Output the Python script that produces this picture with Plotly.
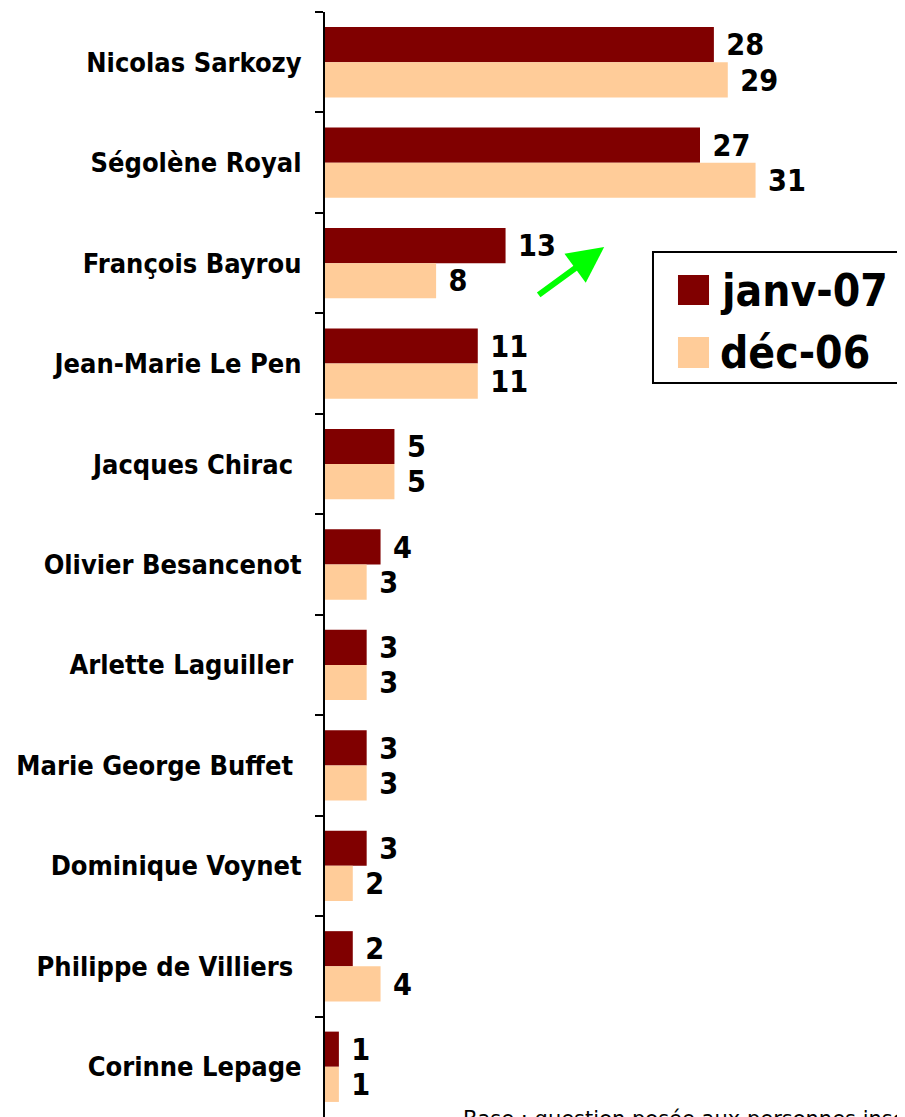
"""
Intentions de vote : janv-07 vs déc-06
"""

import plotly.graph_objects as go

CANDIDATS = [
    "Nicolas Sarkozy",
    "Ségolène Royal",
    "François Bayrou",
    "Jean-Marie Le Pen",
    "Jacques Chirac\u00a0",
    "Olivier Besancenot",
    "Arlette Laguiller\u00a0",
    "Marie George Buffet\u00a0",
    "Dominique Voynet",
    "Philippe de Villiers\u00a0",
    "Corinne Lepage",
]
JANV_07 = [28, 27, 13, 11, 5, 4, 3, 3, 3, 2, 1]
DEC_06 = [29, 31, 8, 11, 5, 3, 3, 3, 2, 4, 1]

COLORS = {"janv": "#800000", "dec": "#FFCC99", "arrow": "#00FF00"}
FONT = "DejaVu Sans Condensed, DejaVu Sans"

fig = go.Figure()

for nom, valeurs, couleur in [("janv-07", JANV_07, COLORS["janv"]),
                              ("déc-06", DEC_06, COLORS["dec"])]:
    fig.add_trace(
        go.Bar(
            y=CANDIDATS,
            x=valeurs,
            orientation="h",
            name=nom,
            marker=dict(color=couleur, line_width=0),
            text=valeurs,
            texttemplate="\u00a0%{x}",
            textposition="outside",
            textfont=dict(family=FONT, size=31, color="black", weight="bold"),
            cliponaxis=False,
        )
    )

# legende dessinee a la main (grands carres)
fig.add_shape(type="rect", xref="paper", yref="paper",
              x0=0.5655, x1=1.02, y0=0.6643, y1=0.7828,
              line=dict(color="black", width=2), fillcolor="white")
fig.add_shape(type="rect", xref="paper", yref="paper",
              x0=0.6086, x1=0.6621, y0=0.7348, y1=0.7620,
              line_width=0, fillcolor=COLORS["janv"])
fig.add_shape(type="rect", xref="paper", yref="paper",
              x0=0.6086, x1=0.6621, y0=0.6778, y1=0.7059,
              line_width=0, fillcolor=COLORS["dec"])
for label, ypos in [("janv-07", 0.7484), ("déc-06", 0.6918)]:
    fig.add_annotation(
        text=label, xref="paper", yref="paper", x=0.678, y=ypos,
        xanchor="left", yanchor="middle", showarrow=False,
        font=dict(family=FONT, size=44, color="black", weight="bold"),
    )

# fleche verte (Bayrou en hausse)
fig.add_annotation(
    text="", xref="x", yref="paper", x=20.1, y=0.7873,
    ax=-67, ay=49, showarrow=True,
    arrowhead=2, arrowsize=1.2, arrowwidth=6, arrowcolor=COLORS["arrow"],
)

fig.add_annotation(
    text="Base : question posée aux personnes inscrites sur les listes électorales",
    xref="paper", yref="paper", x=0.234, y=0.0105,
    xanchor="left", yanchor="top", showarrow=False,
    font=dict(family="DejaVu Sans", size=21, color="black"),
)

# la page ajoute 8 px de marge : figure reduite d'autant
fig.update_layout(
    width=897,
    height=1109,
    margin=dict(l=317, r=0, t=4, b=0),
    barmode="group",
    bargap=0.3,
    bargroupgap=0,
    showlegend=False,
    plot_bgcolor="white",
    paper_bgcolor="white",
    xaxis=dict(
        range=[0, 41.76],
        visible=False,
        automargin=False,
    ),
    yaxis=dict(
        autorange="reversed",
        automargin=False,
        showline=True,
        linecolor="black",
        linewidth=2,
        ticks="outside",
        tickson="boundaries",
        ticklen=8,
        tickwidth=2,
        tickcolor="black",
        ticklabelstandoff=16,
        tickfont=dict(family=FONT, size=27, color="black", weight="bold"),
        showgrid=False,
    ),
)

fig.write_html("out.html")
